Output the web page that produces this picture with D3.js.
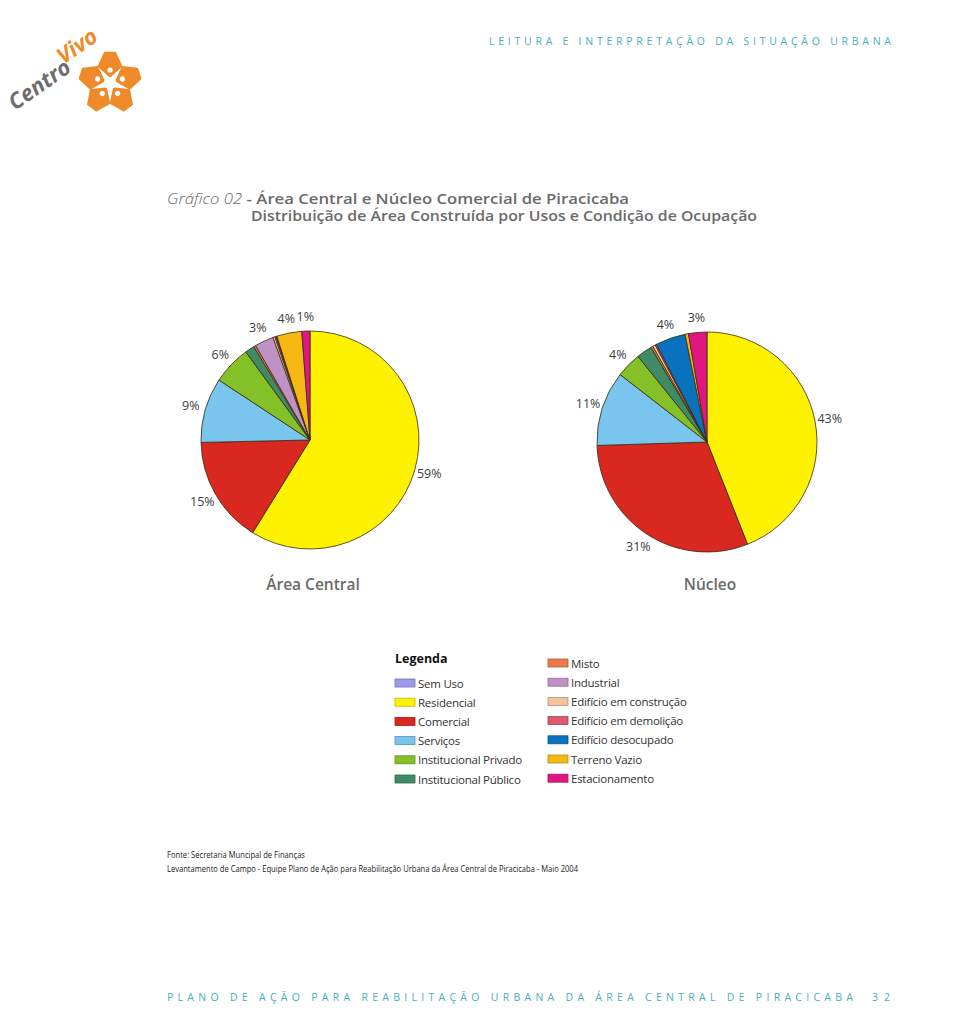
<!DOCTYPE html>
<html>
<head>
<meta charset="utf-8">
<script src="https://cdn.jsdelivr.net/npm/d3@7"></script>
<style>
html,body{margin:0;padding:0;background:#fff;}
svg{display:block;}
</style>
</head>
<body>
<svg id="chart" width="960" height="1027"></svg>
<script>
// ---------------- DATA ----------------
const categories = ["Sem Uso","Residencial","Comercial","Serviços","Institucional Privado","Institucional Público","Misto","Industrial","Edifício em construção","Edifício em demolição","Edifício desocupado","Terreno Vazio","Estacionamento"];
const colors = ["#9b9bec","#fff200","#d8281f","#79c5ee","#84c028","#3f8b66","#e87a4c","#bf92c6","#f4c29a","#e0586c","#0a71bf","#f6b914","#e0177f"];
const areaCentralValues = [0, 58.7, 15.8, 9.6, 5.7, 1.4, 0.3, 2.8, 0.3, 0.2, 0.1, 3.7, 1.2];
const areaCentralLabels = ["", "59%", "15%", "9%", "6%", "", "", "3%", "", "", "", "4%", "1%"];
const nucleoValues = [0, 44, 30.5, 11, 3.7, 2.3, 0.3, 0, 0.4, 0.2, 4.4, 0.5, 2.7];
const nucleoLabels = ["", "43%", "31%", "11%", "4%", "", "", "", "", "", "4%", "", "3%"];
const pieTitles = ["Área Central", "Núcleo"];
const legendCol1 = [0,1,2,3,4,5];
const legendCol2 = [6,7,8,9,10,11,12];

const svg = d3.select("#chart");
const teal = "#4aaec0";

// ---------------- HEADER ----------------
svg.append("text")
  .attr("x", 489).attr("y", 45)
  .attr("textLength", 402).attr("lengthAdjust", "spacing")
  .style("font-family", "'Open Sans', sans-serif").style("font-size", "10.5px")
  .style("fill", teal)
  .text("LEITURA E INTERPRETAÇÃO DA SITUAÇÃO URBANA");

// ---------------- LOGO ----------------
const logo = svg.append("g");
const logoText = logo.append("text")
  .attr("transform", "translate(15,111) rotate(-35)")
  .style("font-family", "'Open Sans', sans-serif").style("font-weight", "700")
  .style("font-style", "italic").style("font-size", "22px");
logoText.append("tspan").style("fill", "#6d6e71").text("Centro");
logoText.append("tspan").attr("dy", -10).attr("dx", -4).style("fill", "#ef8a2a").text("Vivo");

const flower = logo.append("g").attr("transform", "translate(110,83)");
const petal = [[0,-7],[-11,-17],[-5,-30],[5,-30],[11,-17]];
d3.range(5).forEach(i => {
  flower.append("polygon")
    .attr("points", petal.map(p => p.join(",")).join(" "))
    .attr("transform", `rotate(${i*72})`)
    .attr("fill", "#ef8a2a").attr("stroke", "#ef8a2a")
    .attr("stroke-width", 2.5).attr("stroke-linejoin", "round");
  flower.append("circle").attr("cx", 0).attr("cy", -13).attr("r", 2.6)
    .attr("transform", `rotate(${i*72})`).attr("fill", "#fff");
});
flower.append("circle").attr("r", 6).attr("fill", "#fff");

// ---------------- TITLE ----------------
const t1 = svg.append("text").attr("x", 167).attr("y", 204)
  .attr("textLength", 462).attr("lengthAdjust", "spacingAndGlyphs")
  .style("font-family", "'Open Sans', sans-serif").style("font-size", "14px").style("fill", "#6a6a6a");
t1.append("tspan").style("font-style", "italic").style("font-weight", "300").text("Gráfico 02 ");
t1.append("tspan").style("font-weight", "600").text("- Área Central e Núcleo Comercial de Piracicaba");
svg.append("text").attr("x", 251).attr("y", 221)
  .attr("textLength", 506).attr("lengthAdjust", "spacingAndGlyphs")
  .style("font-family", "'Open Sans', sans-serif").style("font-size", "14px")
  .style("font-weight", "600").style("fill", "#6a6a6a")
  .text("Distribuição de Área Construída  por Usos e Condição de Ocupação");

// ---------------- PIES ----------------
const pies = [
  {values: areaCentralValues, labels: areaCentralLabels, cx: 310, cy: 440, r: 109, title: pieTitles[0]},
  {values: nucleoValues, labels: nucleoLabels, cx: 707, cy: 442, r: 110, title: pieTitles[1]}
];
const pieGen = d3.pie().sort(null).value(d => d.v);

pies.forEach(p => {
  const g = svg.append("g").attr("transform", `translate(${p.cx},${p.cy})`);
  const data = categories.map((c, i) => ({c, v: p.values[i], color: colors[i], label: p.labels[i]}));
  const arcs = pieGen(data).filter(a => a.data.v > 0);
  const arc = d3.arc().innerRadius(0).outerRadius(p.r);
  const labelArc = d3.arc().innerRadius(p.r + 15).outerRadius(p.r + 15);
  g.selectAll("path.slice").data(arcs).join("path")
    .attr("class", "slice")
    .attr("d", arc)
    .attr("fill", d => d.data.color)
    .attr("stroke", "#3a2a10").attr("stroke-width", 0.8).attr("stroke-linejoin", "round");
  g.selectAll("text.lbl").data(arcs.filter(a => a.data.label)).join("text")
    .attr("class", "lbl")
    .attr("transform", d => `translate(${labelArc.centroid(d)})`)
    .attr("text-anchor", "middle").attr("dominant-baseline", "central")
    .style("font-family", "'Open Sans', sans-serif").style("font-size", "12.5px")
    .style("fill", "#3d3d3d")
    .text(d => d.data.label);
  svg.append("text")
    .attr("x", p.cx + 3).attr("y", 590)
    .attr("text-anchor", "middle")
    .style("font-family", "'Open Sans', sans-serif").style("font-size", "15.5px")
    .style("font-weight", "600").style("fill", "#6a6a6a")
    .text(p.title);
});

// ---------------- LEGEND ----------------
svg.append("text").attr("x", 395).attr("y", 663)
  .style("font-family", "'Open Sans', sans-serif").style("font-size", "12.5px")
  .style("font-weight", "700").style("fill", "#111").text("Legenda");

function legendColumn(idxs, x, y0) {
  const g = svg.append("g");
  const row = g.selectAll("g").data(idxs).join("g")
    .attr("transform", (d, i) => `translate(${x},${y0 + i * 19.2})`);
  row.append("rect").attr("x", 0).attr("y", -4).attr("width", 20).attr("height", 8)
    .attr("fill", d => colors[d])
    .attr("stroke", d => d3.color(colors[d]).darker(0.8)).attr("stroke-width", 0.8);
  row.append("text").attr("x", 23).attr("y", 0).attr("dominant-baseline", "central")
    .style("font-family", "'Open Sans', sans-serif").style("font-size", "11.5px")
    .style("letter-spacing", "-0.25px")
    .style("fill", "#333").text(d => categories[d]);
}
legendColumn(legendCol1, 395, 683);
legendColumn(legendCol2, 548, 663);

// ---------------- SOURCE ----------------
svg.append("text").attr("x", 167).attr("y", 858)
  .attr("textLength", 138).attr("lengthAdjust", "spacingAndGlyphs")
  .style("font-family", "'Open Sans', sans-serif").style("font-size", "9px").style("fill", "#222")
  .text("Fonte: Secretaria Muncipal de Finanças");
svg.append("text").attr("x", 167).attr("y", 872)
  .attr("textLength", 411).attr("lengthAdjust", "spacingAndGlyphs")
  .style("font-family", "'Open Sans', sans-serif").style("font-size", "9px").style("fill", "#222")
  .text("Levantamento de Campo - Equipe Plano de Ação para Reabilitação Urbana da Área Central de Piracicaba - Maio 2004");

// ---------------- FOOTER ----------------
svg.append("text").attr("x", 167).attr("y", 1001)
  .attr("textLength", 686).attr("lengthAdjust", "spacing")
  .style("font-family", "'Open Sans', sans-serif").style("font-size", "10.5px").style("fill", teal)
  .text("PLANO DE AÇÃO PARA REABILITAÇÃO URBANA DA ÁREA CENTRAL DE PIRACICABA");
svg.append("text").attr("x", 872).attr("y", 1001)
  .attr("textLength", 18).attr("lengthAdjust", "spacing")
  .style("font-family", "'Open Sans', sans-serif").style("font-size", "10.5px").style("fill", teal)
  .text("32");
</script>
</body>
</html>
